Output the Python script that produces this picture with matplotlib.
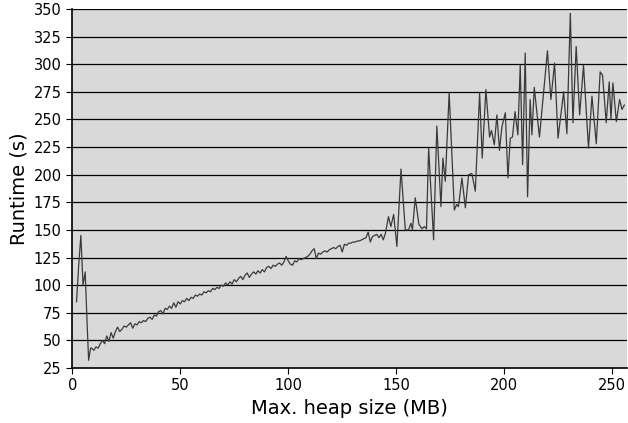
import matplotlib
matplotlib.use("Agg")
import matplotlib.pyplot as plt

# --- data ---
heap_start = [2, 3, 4, 5, 6, 7, 7.6, 8.5]
runtime_start = [85, 118, 145, 100, 112, 60, 32, 43]

heap_linear = list(range(9, 146))
runtime_linear = [
    43, 41, 44, 43, 47, 50, 47, 54, 49, 57, 52, 58,            # 9-20
    62, 58, 60, 63, 62, 64, 66, 61, 65, 64,                    # 21-30
    67, 66, 68, 67, 70, 71, 69, 73, 72, 76,                    # 31-40
    77, 74, 79, 78, 81, 79, 84, 80, 85, 83,                    # 41-50
    86, 85, 88, 86, 89, 88, 91, 90, 92, 91,                    # 51-60
    94, 93, 95, 94, 97, 96, 98, 97, 100, 99,                   # 61-70
    102, 100, 103, 101, 105, 103, 106, 108, 105, 109,          # 71-80
    111, 107, 110, 112, 110, 113, 111, 114, 112, 116,          # 81-90
    117, 115, 118, 117, 119, 120, 118, 121, 126, 122,          # 91-100
    119, 118, 122, 121, 124, 123, 124, 125, 126, 128,          # 101-110
    131, 133, 124, 129, 128, 130, 131, 130, 132, 133,          # 111-120
    134, 133, 135, 136, 130, 137, 136, 138, 138, 139,          # 121-130
    139, 140, 140, 141, 142, 143, 148, 139, 144, 145,          # 131-140
    146, 143, 146, 141, 147,                                   # 141-145
]

heap_noisy = [
    146.4, 147.5, 148.8, 150.3, 152.2, 154.2, 155.7, 156.8, 157.5, 158.8,
    160.5, 161.9, 163, 164, 165, 167.3, 168.8, 170.7, 171.6, 172.7,
    174.5, 176.9, 178, 178.8, 180.4, 182, 183.5, 185, 186.6, 188.6,
    189.8, 191.5, 193.2, 194.1, 195.4, 196.6, 197.8, 198.9, 200.5, 201.7,
    202.8, 203.8, 205, 206.3, 207.4, 208.5, 209.7, 210.8, 212, 212.8,
    213.9, 216.3, 218, 220, 221.6, 223.3, 224.9, 227.5, 229, 230.6,
    231.8, 233.3, 234.9, 236.7, 239, 240.6, 242.6, 244.4, 245.5, 247.2,
    248.6, 249.4, 250.3, 251.9, 253.4, 254.5, 255.6,
]
runtime_noisy = [
    162, 153, 164, 135, 205, 150, 150, 156, 150, 179,
    155, 151, 153, 151, 224, 141, 244, 171, 215, 194,
    274, 168, 173, 171, 197, 170, 200, 201, 185, 274,
    215, 277, 234, 240, 227, 254, 222, 243, 256, 197,
    233, 234, 257, 236, 299, 209, 310, 180, 268, 236,
    279, 234, 270, 312, 268, 301, 233, 275, 237, 346,
    247, 316, 254, 299, 224, 271, 228, 293, 290, 247,
    284, 250, 283, 248, 268, 259, 263,
]

heap = heap_start + heap_linear + heap_noisy
runtime = runtime_start + runtime_linear + runtime_noisy

x_ticks = [0, 50, 100, 150, 200, 250]
y_ticks = [25, 50, 75, 100, 125, 150, 175, 200, 225, 250, 275, 300, 325, 350]

plt.rcParams['font.family'] = ['DejaVu Sans']
fig = plt.figure(figsize=(6.28, 4.23), dpi=100)
ax = fig.add_axes([0.115, 0.130, 0.884, 0.849])
ax.set_facecolor('#d9d9d9')

for yt in y_ticks[1:]:
    ax.axhline(yt, color='black', lw=0.9, zorder=1)

ax.plot(heap, runtime, color='#3a3a3a', lw=0.9, zorder=2)

ax.set_xlim(0, 257)
ax.set_ylim(25, 350)
ax.set_xticks(x_ticks)
ax.set_yticks(y_ticks)
ax.tick_params(labelsize=10.5, direction='out', length=4, width=0.8, colors='black')
for s in ['top', 'right']:
    ax.spines[s].set_visible(False)
for s in ['left', 'bottom']:
    ax.spines[s].set_linewidth(1.2)
    ax.spines[s].set_color('black')

ax.set_xlabel('Max. heap size (MB)', fontsize=14)
ax.set_ylabel('Runtime (s)', fontsize=14)

fig.savefig('out.png', dpi=100)
